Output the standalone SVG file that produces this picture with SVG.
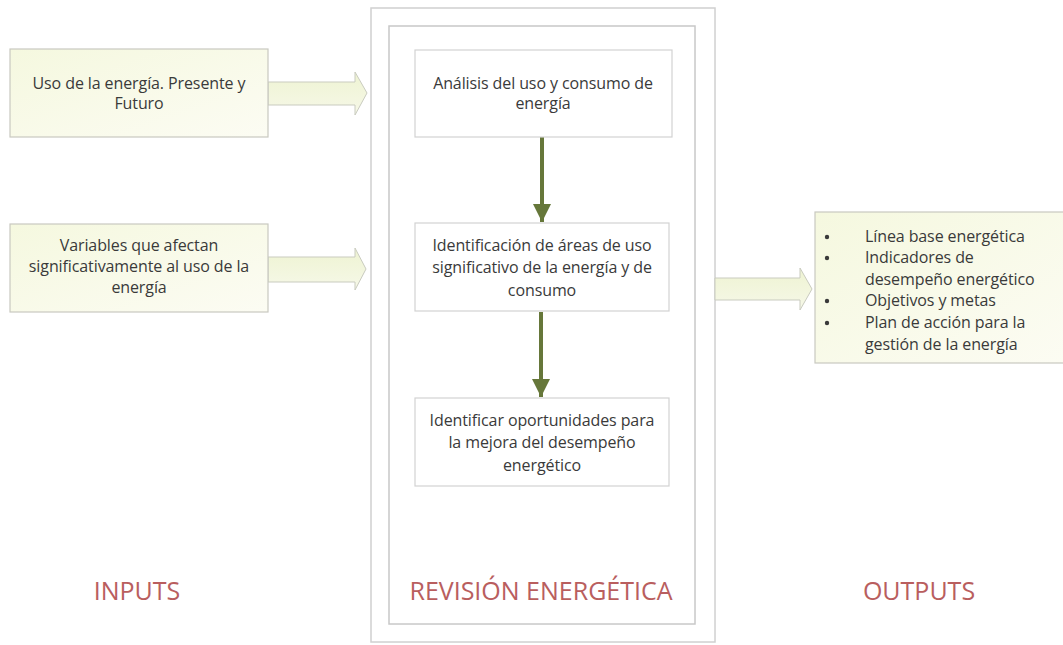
<svg xmlns="http://www.w3.org/2000/svg" width="1063" height="645" viewBox="0 0 1063 645">
<defs>
<linearGradient id="lg" x1="0" y1="0" x2="1" y2="1">
<stop offset="0" stop-color="#f5f8df"/>
<stop offset="1" stop-color="#fcfcf3"/>
</linearGradient>
<linearGradient id="ag" x1="0" y1="0" x2="0" y2="1">
<stop offset="0" stop-color="#eef3d2"/>
<stop offset="1" stop-color="#f6f8e8"/>
</linearGradient>
<marker id="ah" viewBox="0 0 10 10" refX="10" refY="5" markerWidth="18" markerHeight="20" markerUnits="userSpaceOnUse" orient="auto">
<path d="M0,0 L10,5 L0,10 Z" fill="#66773a"/>
</marker>
</defs>
<style>
.t{font-family:"Open Sans","Liberation Sans",sans-serif;font-size:16px;fill:#3a3a3a;text-anchor:middle;letter-spacing:-0.1px}
.tl{font-family:"Open Sans","Liberation Sans",sans-serif;font-size:16px;fill:#3a3a3a;letter-spacing:-0.1px}
.lab{font-family:"Open Sans","Liberation Sans",sans-serif;font-size:25px;fill:#b95e5e;text-anchor:middle}
.in{fill:url(#lg);stroke:#c9c9c0;stroke-width:1.2}
.wb{fill:#ffffff;stroke:#d2d2d2;stroke-width:1.2}
.ba{fill:url(#ag);stroke:#c9cbbf;stroke-width:1}
.gl{stroke:#66773a;stroke-width:4;fill:none}
</style>
<rect width="1063" height="645" fill="#ffffff"/>
<g id="revision-frame">
<rect x="371" y="8" width="344" height="634" fill="#ffffff" stroke="#d0d0d0" stroke-width="1.5"/>
<rect x="389" y="26" width="306" height="598" fill="#ffffff" stroke="#c8c8c8" stroke-width="1.5"/>
</g>
<g id="connectors">
<path class="ba" d="M268,82 L355,82 L355,72 L367,93 L355,115 L355,105 L268,105 Z"/>
<path class="ba" d="M268,257 L355,257 L355,248 L366,269 L355,290 L355,282 L268,282 Z"/>
<path class="ba" d="M715,278 L800,278 L800,268 L812,289 L800,310 L800,300 L715,300 Z"/>
<line class="gl" x1="542" y1="137" x2="542" y2="222" marker-end="url(#ah)"/>
<line class="gl" x1="541" y1="312" x2="541" y2="397" marker-end="url(#ah)"/>
</g>
<g id="input1">
<rect class="in" x="10" y="49" width="258" height="88"/>
<text class="t" x="139" y="89">Uso de la energía. Presente y</text>
<text class="t" x="139" y="109">Futuro</text>
</g>
<g id="input2">
<rect class="in" x="10" y="224" width="258" height="88"/>
<text class="t" x="139" y="251">Variables que afectan</text>
<text class="t" x="139" y="272">significativamente al uso de la</text>
<text class="t" x="139" y="293">energía</text>
</g>
<g id="step1">
<rect class="wb" x="415" y="50" width="257" height="87"/>
<text class="t" x="543" y="89">Análisis del uso y consumo de</text>
<text class="t" x="543" y="109">energía</text>
</g>
<g id="step2">
<rect class="wb" x="415" y="223" width="254" height="88"/>
<text class="t" x="542" y="251">Identificación de áreas de uso</text>
<text class="t" x="542" y="273">significativo de la energía y de</text>
<text class="t" x="542" y="296">consumo</text>
</g>
<g id="step3">
<rect class="wb" x="415" y="398" width="254" height="88"/>
<text class="t" x="542" y="426">Identificar oportunidades para</text>
<text class="t" x="542" y="448">la mejora del desempeño</text>
<text class="t" x="542" y="471">energético</text>
</g>
<g id="outputs-box">
<rect class="in" x="815" y="212" width="250" height="151"/>
<circle cx="827" cy="237" r="2.2" fill="#3a3a3a"/>
<circle cx="827" cy="258" r="2.2" fill="#3a3a3a"/>
<circle cx="827" cy="301" r="2.2" fill="#3a3a3a"/>
<circle cx="827" cy="323" r="2.2" fill="#3a3a3a"/>
<text class="tl" x="865" y="242">Línea base energética</text>
<text class="tl" x="865" y="263">Indicadores de</text>
<text class="tl" x="865" y="285">desempeño energético</text>
<text class="tl" x="865" y="306">Objetivos y metas</text>
<text class="tl" x="865" y="328">Plan de acción para la</text>
<text class="tl" x="865" y="350">gestión de la energía</text>
</g>
<g id="labels">
<text class="lab" x="137" y="600">INPUTS</text>
<text class="lab" x="541" y="600">REVISIÓN ENERGÉTICA</text>
<text class="lab" x="919" y="600">OUTPUTS</text>
</g>
</svg>
